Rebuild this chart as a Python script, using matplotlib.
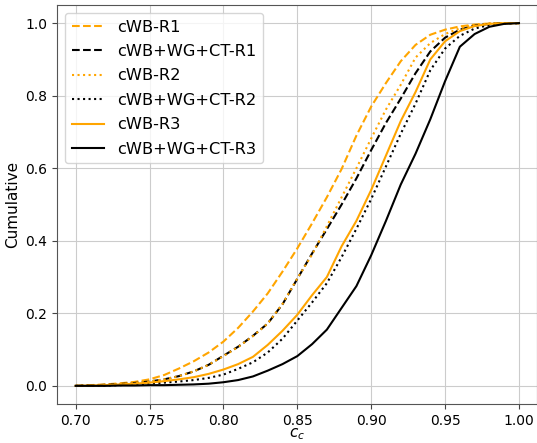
import matplotlib
matplotlib.use("Agg")
import matplotlib.pyplot as plt

# correlation coefficient grid
cc = [0.70, 0.71, 0.72, 0.73, 0.74, 0.75, 0.76, 0.77, 0.78, 0.79,
      0.80, 0.81, 0.82, 0.83, 0.84, 0.85, 0.86, 0.87, 0.88, 0.89,
      0.90, 0.91, 0.92, 0.93, 0.94, 0.95, 0.96, 0.97, 0.98, 0.99, 1.00]

cwb_r1 = [0.0, 0.002, 0.004, 0.007, 0.011, 0.018, 0.030, 0.048, 0.068, 0.092,
          0.122, 0.160, 0.205, 0.255, 0.315, 0.379, 0.448, 0.520, 0.598, 0.690,
          0.770, 0.835, 0.895, 0.940, 0.968, 0.982, 0.991, 0.996, 0.999, 1.0, 1.0]
wg_r1 = [0.0, 0.001, 0.003, 0.005, 0.008, 0.012, 0.018, 0.027, 0.040, 0.058,
         0.083, 0.108, 0.138, 0.172, 0.225, 0.295, 0.365, 0.432, 0.500, 0.572,
         0.650, 0.725, 0.792, 0.862, 0.922, 0.960, 0.982, 0.993, 0.998, 1.0, 1.0]
cwb_r2 = [0.0, 0.001, 0.003, 0.005, 0.008, 0.012, 0.018, 0.027, 0.040, 0.058,
          0.082, 0.107, 0.137, 0.172, 0.226, 0.296, 0.362, 0.440, 0.520, 0.600,
          0.682, 0.762, 0.830, 0.905, 0.945, 0.970, 0.986, 0.995, 0.999, 1.0, 1.0]
wg_r2 = [0.0, 0.001, 0.001, 0.002, 0.004, 0.006, 0.009, 0.012, 0.016, 0.022,
         0.031, 0.047, 0.065, 0.092, 0.130, 0.180, 0.230, 0.283, 0.355, 0.433,
         0.515, 0.605, 0.695, 0.778, 0.870, 0.930, 0.965, 0.985, 0.995, 0.999, 1.0]
cwb_r3 = [0.0, 0.001, 0.002, 0.004, 0.006, 0.009, 0.013, 0.018, 0.024, 0.033,
          0.045, 0.060, 0.080, 0.113, 0.152, 0.196, 0.250, 0.300, 0.385, 0.455,
          0.540, 0.635, 0.730, 0.810, 0.900, 0.950, 0.978, 0.992, 0.998, 1.0, 1.0]
wg_r3 = [0.0, 0.0, 0.0, 0.001, 0.001, 0.002, 0.002, 0.003, 0.004, 0.006,
         0.010, 0.016, 0.026, 0.042, 0.060, 0.082, 0.115, 0.155, 0.215, 0.275,
         0.360, 0.455, 0.555, 0.640, 0.735, 0.840, 0.935, 0.970, 0.990, 0.998, 1.0]

fig = plt.figure(figsize=(5.37, 4.43), dpi=100)
ax = fig.add_axes([57/537, 1-404/443, 480/537, 399/443])

ax.plot(cc, cwb_r1, color='orange', ls='--', lw=1.5, label='cWB-R1')
ax.plot(cc, wg_r1, color='black', ls='--', lw=1.5, label='cWB+WG+CT-R1')
ax.plot(cc, cwb_r2, color='orange', ls=':', lw=1.5, label='cWB-R2')
ax.plot(cc, wg_r2, color='black', ls=':', lw=1.5, label='cWB+WG+CT-R2')
ax.plot(cc, cwb_r3, color='orange', ls='-', lw=1.5, label='cWB-R3')
ax.plot(cc, wg_r3, color='black', ls='-', lw=1.5, label='cWB+WG+CT-R3')

ax.set_xlim(0.6874, 1.0122)
ax.set_ylim(-0.05, 1.05)
ax.set_xticks([0.70, 0.75, 0.80, 0.85, 0.90, 0.95, 1.00])
ax.set_yticks([0.0, 0.2, 0.4, 0.6, 0.8, 1.0])
ax.tick_params(labelsize=10, color='#444444')
ax.grid(True, color='#cccccc', lw=0.8)
for s in ax.spines.values():
    s.set_color('#555555')

ax.set_xlabel('$c_c$', fontsize=11, labelpad=-1)
ax.set_ylabel('Cumulative', fontsize=11)
ax.legend(loc='upper left', fontsize=11.7, labelspacing=0.58)

fig.savefig('out.png', dpi=100)
